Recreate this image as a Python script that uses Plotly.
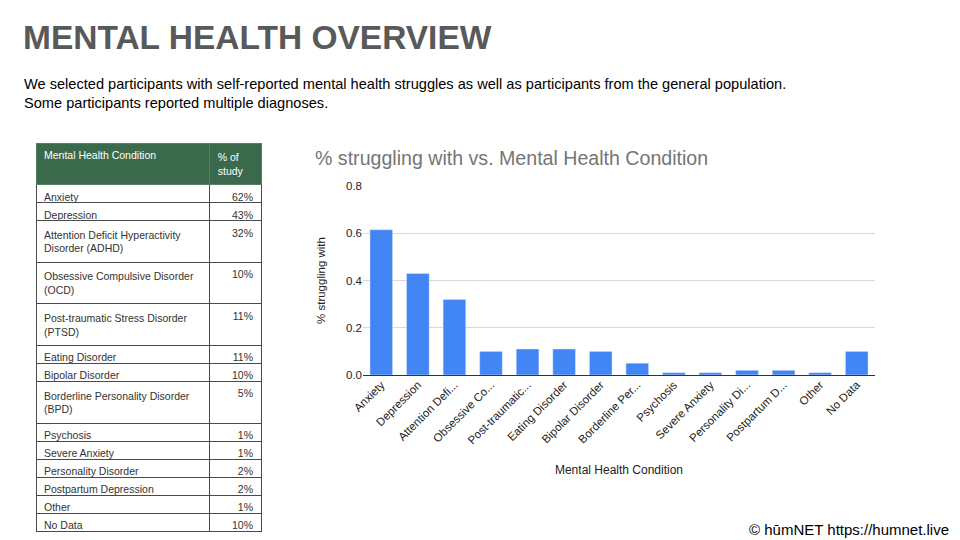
import plotly.graph_objects as go

# table contents
conditions = [
    "Anxiety", "Depression", "Attention Deficit Hyperactivity<br>Disorder (ADHD)",
    "Obsessive Compulsive Disorder<br>(OCD)", "Post-traumatic Stress Disorder<br>(PTSD)",
    "Eating Disorder", "Bipolar Disorder", "Borderline Personality Disorder<br>(BPD)",
    "Psychosis", "Severe Anxiety", "Personality Disorder", "Postpartum Depression",
    "Other", "No Data",
]
pct_of_study = ["62%", "43%", "32%", "10%", "11%", "11%", "10%", "5%",
                "1%", "1%", "2%", "2%", "1%", "10%"]

# chart contents
bar_labels = [
    "Anxiety", "Depression", "Attention Defi...", "Obsessive Co...", "Post-traumatic...",
    "Eating Disorder", "Bipolar Disorder", "Borderline Per...", "Psychosis",
    "Severe Anxiety", "Personality Di...", "Postpartum D...", "Other", "No Data",
]
struggling = [0.615, 0.43, 0.32, 0.10, 0.11, 0.11, 0.10, 0.05,
              0.01, 0.01, 0.02, 0.02, 0.01, 0.10]

# the page puts the figure 8px in from the top-left corner
OFF = 8
W, H = 960 - OFF, 540 - OFF
FONT = "Arial, Liberation Sans, sans-serif"


def px(x):
    return (x - OFF) / W


def py(y):
    return 1 - (y - OFF) / H


fig = go.Figure()

fig.add_trace(go.Table(
    domain=dict(x=[px(36), px(261)], y=[0, py(143)]),
    columnwidth=[173, 51],
    header=dict(
        values=["Mental Health Condition", "% of<br>study"],
        fill_color="#3a6a4b",
        line=dict(color="#557f63", width=1),
        font=dict(family=FONT, size=10.5, color="white"),
        align=["left", "left"],
        height=18,
    ),
    cells=dict(
        values=[conditions, pct_of_study],
        fill_color="white",
        line=dict(color="#4a4a4a", width=1),
        font=dict(family=FONT, size=10.5, color="#333333"),
        align=["left", "right"],
        height=18,
    ),
))

fig.add_trace(go.Bar(
    x=bar_labels,
    y=struggling,
    marker=dict(color="#4285f4"),
    width=0.62,
    hoverinfo="x+y",
))

fig.update_layout(
    width=W, height=H,
    margin=dict(l=0, r=0, t=0, b=0, autoexpand=False),
    paper_bgcolor="white",
    plot_bgcolor="white",
    showlegend=False,
    font=dict(family=FONT, color="#222222"),
    xaxis=dict(
        domain=[px(363), px(875)],
        automargin=False,
        tickangle=-45,
        tickfont=dict(size=11.5, color="#222222"),
        showgrid=False,
        showline=False,
        ticks="",
        title=dict(text="Mental Health Condition", font=dict(size=12, color="#222222"), standoff=20),
        anchor="y",
    ),
    yaxis=dict(
        domain=[py(375), py(186)],
        automargin=False,
        range=[0, 0.8],
        dtick=0.2,
        tickformat=".1f",
        tickfont=dict(size=11.5, color="#222222"),
        gridcolor="#d9d9d9",
        zeroline=True,
        zerolinecolor="#333333",
        zerolinewidth=1,
        ticks="",
        title=dict(text="% struggling with", font=dict(size=11.5, color="#222222"), standoff=17),
    ),
    annotations=[
        dict(text="<b>MENTAL HEALTH OVERVIEW</b>", x=px(21), y=py(38),
             xref="paper", yref="paper", xanchor="left", yanchor="middle",
             showarrow=False, font=dict(family=FONT, size=33.5, color="#595959")),
        dict(text="We selected participants with self-reported mental health struggles as well as "
                  "participants from the general population.<br>Some participants reported multiple diagnoses.",
             x=px(22), y=py(94), xref="paper", yref="paper", xanchor="left", yanchor="middle",
             align="left", showarrow=False,
             font=dict(family=FONT, size=14.6, color="#000000")),
        dict(text="% struggling with vs. Mental Health Condition", x=px(313), y=py(158),
             xref="paper", yref="paper", xanchor="left", yanchor="middle",
             showarrow=False, font=dict(family=FONT, size=19.6, color="#757575")),
        dict(text="© hūmNET https://humnet.live", x=px(951), y=py(529),
             xref="paper", yref="paper", xanchor="right", yanchor="middle",
             showarrow=False, font=dict(family=FONT, size=15, color="#000000")),
    ],
)

fig.write_html("out.html")
